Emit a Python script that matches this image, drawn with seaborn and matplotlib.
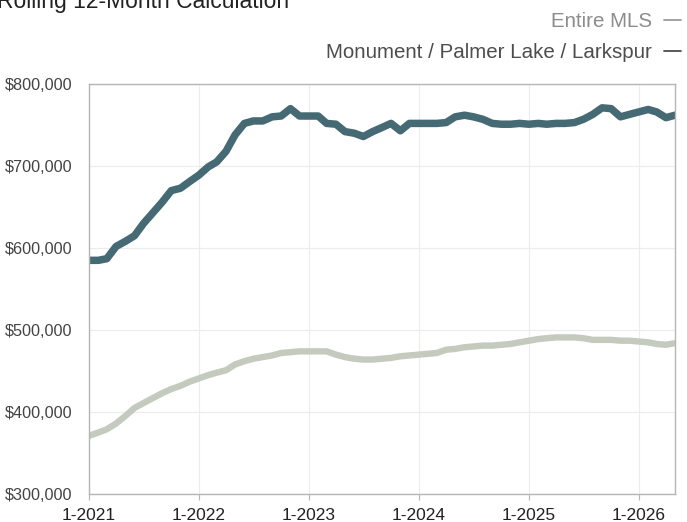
import pandas as pd
import matplotlib.pyplot as plt
import matplotlib.dates as mdates
from matplotlib.lines import Line2D
from matplotlib.ticker import FuncFormatter
import seaborn as sns

# monthly values, Jan 2021 .. May 2026 (in $1,000)
months = pd.date_range("2021-01-01", periods=65, freq="MS")

monument = [585, 585, 587, 602, 608, 615, 630, 643, 656, 670,
            673, 681, 689, 699, 705, 718, 738, 752, 755, 755,
            760, 761, 770, 761, 761, 761, 752, 751, 742, 740,
            736, 742, 747, 752, 743, 752, 752, 752, 752, 753,
            760, 762, 760, 757, 752, 751, 751, 752, 751, 752,
            751, 752, 752, 753, 757, 763, 771, 770, 760, 763,
            766, 769, 766, 759, 762]

entire_mls = [371, 375, 379, 386, 395, 405, 411, 417, 423, 428,
              432, 437, 441, 445, 448, 451, 458, 462, 465, 467,
              469, 472, 473, 474, 474, 474, 474, 470, 467, 465,
              464, 464, 465, 466, 468, 469, 470, 471, 472, 476,
              477, 479, 480, 481, 481, 482, 483, 485, 487, 489,
              490, 491, 491, 491, 490, 488, 488, 488, 487, 487,
              486, 485, 483, 482, 484]

series_names = ["Entire MLS", "Monument / Palmer Lake / Larkspur"]
line_colors = ["#c4cabe", "#466a74"]
text_colors = ["#8c8c8c", "#4d4d4d"]

df = pd.DataFrame({
    "month": list(months) * 2,
    "price": [v * 1000 for v in entire_mls + monument],
    "area": [series_names[0]] * 65 + [series_names[1]] * 65,
})

sns.set_style("white")
plt.rcParams["font.family"] = ["Liberation Sans", "DejaVu Sans"]

fig = plt.figure(figsize=(6.87, 5.22), dpi=100)
ax = fig.add_axes([0.1296, 0.0536, 0.8529, 0.7854])

for name, color, lw in zip(series_names, line_colors, [4.6, 5.4]):
    sns.lineplot(data=df[df.area == name], x="month", y="price", color=color,
                 linewidth=lw, ax=ax, legend=False)

ax.set_ylim(300000, 800000)
ax.set_xlim(months[0], months[-1])
ax.set_yticks(range(300000, 800001, 100000))
ax.yaxis.set_major_formatter(FuncFormatter(lambda v, p: "${:,.0f}".format(v)))
ax.xaxis.set_major_locator(mdates.YearLocator())
ax.xaxis.set_major_formatter(FuncFormatter(lambda v, p: "1-" + mdates.num2date(v).strftime("%Y")))
ax.set_xlabel("")
ax.set_ylabel("")

ax.grid(True, color="#ececec", linewidth=0.8)
for s in ax.spines.values():
    s.set_color("#b5b5b5")
    s.set_linewidth(1.0)
ax.tick_params(axis="y", labelsize=11.7, labelcolor="#444444", length=0, pad=12)
ax.tick_params(axis="x", labelsize=12.5, labelcolor="#222222", length=4,
               color="#b5b5b5", direction="out", bottom=True, pad=6)

fig.text(-0.004, 1 - 8 / 522, "Rolling 12-Month Calculation", fontsize=16.5,
         color="#222222", va="baseline", ha="left")

handles = [Line2D([], [], color=c, linewidth=1.3) for c in ["#9a9a9a", "#4d4d4d"]]
fig.legend(handles, series_names, loc="upper right", bbox_to_anchor=(1.012, 1.005),
           frameon=False, markerfirst=False, handlelength=0.8, handletextpad=0.6,
           labelspacing=0.6, fontsize=14.8, labelcolor=text_colors,
           borderaxespad=0.3)

fig.savefig("out.png", dpi=100)
